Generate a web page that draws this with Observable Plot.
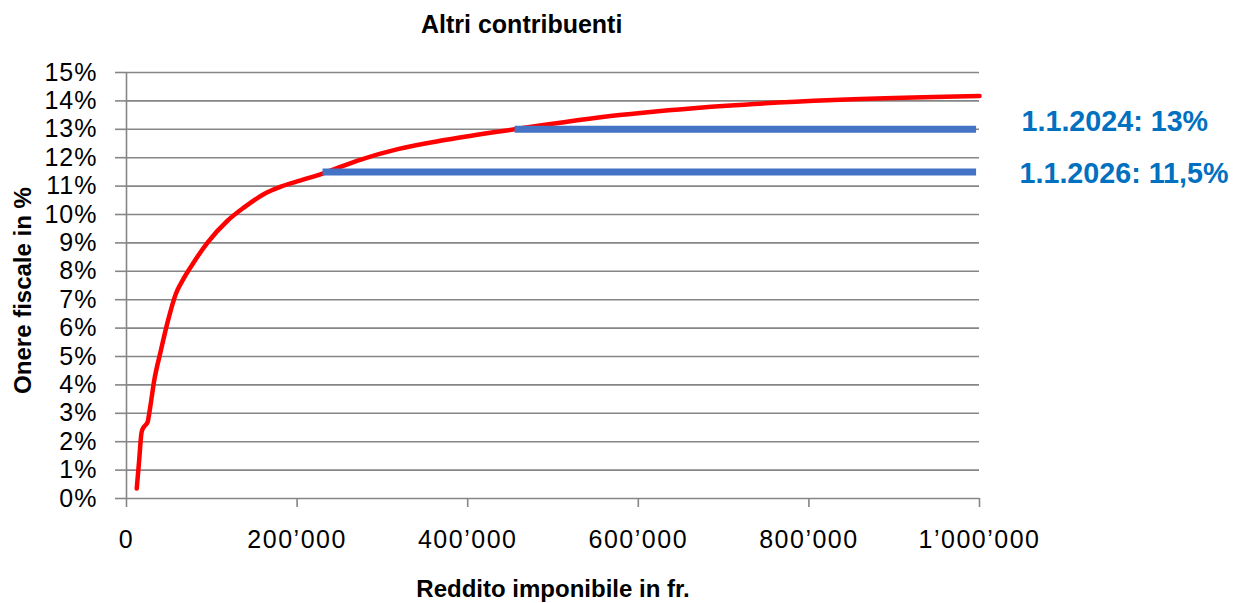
<!DOCTYPE html>
<html>
<head>
<meta charset="utf-8">
<script src="https://cdn.jsdelivr.net/npm/d3@7"></script>
<script src="https://cdn.jsdelivr.net/npm/@observablehq/plot@0.6"></script>
<style>
  html, body { margin: 0; padding: 0; background: #fff; }
  body { width: 1236px; height: 603px; overflow: hidden; font-family: "Liberation Sans", Arial, sans-serif; }
  #title { height: 45px; box-sizing: border-box; padding-top: 9px; padding-left: 421px; font-size: 25px; line-height: 30px; font-weight: bold; color: #000; white-space: nowrap; }
  #chart svg { display: block; }
  #chart g[aria-label="x-axis tick label"] text { letter-spacing: 1.5px; }
  #chart g[aria-label="y-axis tick label"] text { letter-spacing: 1px; }
</style>
</head>
<body>
<div id="title">Altri contribuenti</div>
<div id="chart"></div>
<script>
// ---- data ----
const income = [12000, 14800, 17600, 19900, 24600, 27700, 32400, 40200, 48100, 57800, 65600, 77400, 95000, 118400, 137900, 161300, 180900, 204300, 229800, 271000, 318000, 375000, 455000, 578000, 703500, 829000, 1000000];
const burden = [0.35, 1.33, 2.32, 2.5, 2.68, 3.2, 4.14, 5.2, 6.2, 7.2, 7.67, 8.25, 9.01, 9.78, 10.25, 10.72, 10.98, 11.2, 11.44, 11.9, 12.3, 12.63, 13.0, 13.5, 13.83, 14.03, 14.17];

const refLabels = ["1.1.2024: 13%", "1.1.2026: 11,5%"];
const refRates = [13, 11.5];
const refStart = [455000, 229800];
const refEnd = [996000, 996000];

const xTicks = [0, 200000, 400000, 600000, 800000, 1000000];
const yTicks = [0, 1, 2, 3, 4, 5, 6, 7, 8, 9, 10, 11, 12, 13, 14, 15];

const xTitle = "Reddito imponibile in fr.";
const yTitle = "Onere fiscale in %";

// ---- build tables ----
const curve = income.map((x, i) => ({x, y: burden[i]}));
const refs = refLabels.map((label, i) => ({label, y: refRates[i], x1: refStart[i], x2: refEnd[i]}));

const locale = d3.formatLocale({decimal: ",", thousands: "\u2019", grouping: [3], currency: ["", ""]});
const fmtX = locale.format(",");

const grey = "#868686";
const font = "'Liberation Sans', Arial, sans-serif";

const chart = Plot.plot({
  width: 1236,
  height: 558,
  marginTop: 27,
  marginBottom: 105,
  marginLeft: 126,
  marginRight: 257,
  style: {fontFamily: font, fontSize: "25px", color: "#000", background: "#fff", overflow: "visible"},
  x: {domain: [0, 1000000]},
  y: {domain: [0, 15]},
  marks: [
    Plot.gridY(yTicks, {stroke: grey, strokeOpacity: 1, strokeWidth: 1.6}),
    Plot.axisY(yTicks, {tickSize: 11, tickPadding: 18, stroke: grey, strokeOpacity: 1, strokeWidth: 1.6,
      tickFormat: d => d + "%", label: null, fill: "#000"}),
    Plot.axisX(xTicks, {tickSize: 9, tickPadding: 23, stroke: grey, strokeOpacity: 1, strokeWidth: 1.6,
      tickFormat: fmtX, label: null, fill: "#000"}),
    Plot.ruleX([0], {stroke: grey, strokeWidth: 1.6}),
    Plot.line(curve, {x: "x", y: "y", stroke: "#FF0000", strokeWidth: 4.5, curve: "monotone-x", strokeLinecap: "round"}),
    Plot.link(refs, {x1: "x1", x2: "x2", y1: "y", y2: "y", stroke: "#4472C4", strokeWidth: 7, strokeLinecap: "butt"}),
    Plot.text(refs.slice(0, 1), {x: () => 1000000, y: "y", text: "label", textAnchor: "start", dx: 42, dy: -7,
      fill: "#0070C0", fontWeight: "bold", fontSize: 28.7}),
    Plot.text(refs.slice(1), {x: () => 1000000, y: "y", text: "label", textAnchor: "start", dx: 40, dy: 1.5,
      fill: "#0070C0", fontWeight: "bold", fontSize: 28.7}),
    Plot.text([xTitle], {frameAnchor: "bottom", text: d => d, textAnchor: "middle", lineAnchor: "middle", dy: 91,
      fontWeight: "bold", fontSize: 24, fill: "#000"}),
    Plot.text([yTitle], {frameAnchor: "left", text: d => d, rotate: -90, textAnchor: "middle", lineAnchor: "middle",
      dx: -103, dy: 5, fontWeight: "bold", fontSize: 24, fill: "#000"})
  ]
});
document.getElementById("chart").appendChild(chart);
</script>
</body>
</html>
